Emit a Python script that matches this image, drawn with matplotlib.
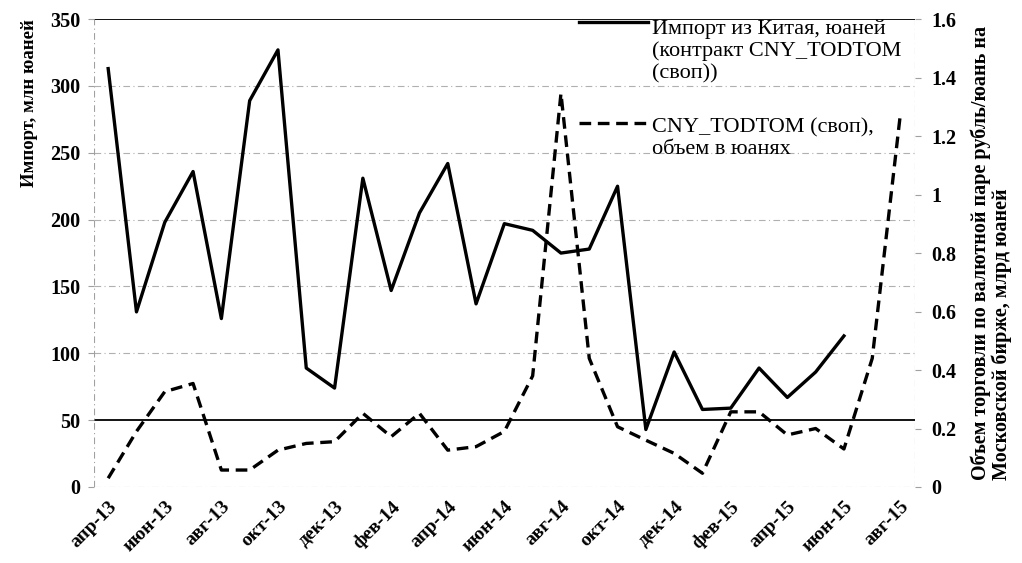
import matplotlib.pyplot as plt
import numpy as np
from matplotlib.legend_handler import HandlerLine2D

months = ["апр-13", "май-13", "июн-13", "июл-13", "авг-13", "сен-13", "окт-13", "ноя-13",
          "дек-13", "янв-14", "фев-14", "мар-14", "апр-14", "май-14", "июн-14", "июл-14",
          "авг-14", "сен-14", "окт-14", "ноя-14", "дек-14", "янв-15", "фев-15", "мар-15",
          "апр-15", "май-15", "июн-15", "июл-15", "авг-15"]

# import from China, mln yuan (left axis), apr-13 .. jun-15
imports = [313, 131, 198, 236, 126, 289, 327, 89, 74, 231, 147, 205, 242, 137,
           197, 192, 175, 178, 225, 43, 101, 58, 59, 89, 67, 86, 113]

# CNY_TODTOM swap volume, bln yuan (right axis), apr-13 .. aug-15
swap_volume = [0.03, 0.19, 0.326, 0.354, 0.058, 0.058, 0.126, 0.149, 0.155, 0.252,
               0.172, 0.252, 0.126, 0.138, 0.19, 0.38, 1.346, 0.44, 0.206, 0.16,
               0.115, 0.047, 0.257, 0.257, 0.178, 0.20, 0.13, 0.44, 1.28]

left_ticks = [0, 50, 100, 150, 200, 250, 300, 350]
right_ticks = [0, 0.2, 0.4, 0.6, 0.8, 1, 1.2, 1.4, 1.6]
right_tick_labels = ["0", "0.2", "0.4", "0.6", "0.8", "1", "1.2", "1.4", "1.6"]

label_imports = "Импорт из Китая, юаней\n(контракт CNY_TODTOM\n(своп))"
label_swap = "CNY_TODTOM (своп),\nобъем в юанях"

plt.rcParams['font.family'] = ['Liberation Serif', 'DejaVu Serif']


class TopLineHandler(HandlerLine2D):
    # puts the legend line next to the first text row instead of the middle
    def __init__(self, shift, **kw):
        super().__init__(**kw)
        self.shift = shift

    def create_artists(self, legend, orig_handle, xdescent, ydescent, width, height,
                       fontsize, trans):
        return super().create_artists(legend, orig_handle, xdescent,
                                      ydescent - 2 * self.shift * fontsize,
                                      width, height, fontsize, trans)


def main() -> None:
    fig = plt.figure(figsize=(10.22, 5.63), dpi=100)
    ax = fig.add_axes([0.092, 0.135, 0.803, 0.831])
    ax2 = ax.twinx()

    x_imp = np.arange(len(imports))
    x_swap = np.arange(len(swap_volume))

    # grid / frame lines
    for v in left_ticks:
        if v in (50, 350):
            ax.axhline(v, color='black', lw=1.3, zorder=1)
        else:
            ax.axhline(v, color='#b0b0b0', lw=0.8, ls=(0, (6, 3, 1, 3)), zorder=1)
    ax.axvline(-0.5, color='#a0a0a0', lw=0.8, ls=(0, (6, 3, 1, 3)))
    ax.axvline(28.5, color='#a0a0a0', lw=0.8, ls=(0, (6, 3, 1, 3)))

    l1, = ax.plot(x_imp, imports, color='black', lw=2.4, label=label_imports, zorder=3)
    l2, = ax2.plot(x_swap, swap_volume, color='black', lw=2.4, ls=(0, (3.5, 2)),
                   label=label_swap, zorder=3)

    ax.set_xlim(-0.5, 28.5)
    ax.set_ylim(0, 350)
    ax2.set_ylim(0, 1.6)

    for a in (ax, ax2):
        for s in a.spines.values():
            s.set_visible(False)

    ax.set_yticks(left_ticks)
    ax.set_yticklabels([str(v) for v in left_ticks], fontsize=14.5, fontweight='bold')
    ax.tick_params(axis='y', length=4, color='#a0a0a0', pad=6)

    ax2.set_yticks(right_ticks)
    ax2.set_yticklabels(right_tick_labels, fontsize=14.5, fontweight='bold')
    ax2.tick_params(axis='y', length=4, color='#a0a0a0', pad=8)

    ax.set_xticks(x_swap[::2])
    ax.set_xticklabels(months[::2], rotation=45, ha='right', rotation_mode='anchor',
                       fontsize=14, fontweight='bold')
    ax.tick_params(axis='x', length=0, pad=8)

    ax.set_ylabel("Импорт, млн юаней", fontsize=13.5, fontweight='bold')
    ax.yaxis.set_label_coords(-0.068, 0.82)
    ax2.set_ylabel("Объем торговли по валютной паре рубль/юань на\nМосковской бирже, млрд юаней",
                   fontsize=14.5, fontweight='bold', labelpad=10, linespacing=1.05,
                   multialignment='left')

    leg = fig.legend(handles=[l1, l2], loc='upper left', bbox_to_anchor=(0.567, 0.966),
                     frameon=False, fontsize=16, handlelength=3.1, handletextpad=0.15,
                     labelspacing=1.55, borderpad=0, borderaxespad=0,
                     handler_map={l1: TopLineHandler(1.3), l2: TopLineHandler(0.68)})
    for t in leg.get_texts():
        t.set_linespacing(1.2)

    fig.savefig('out.png', dpi=100)


if __name__ == '__main__':
    main()
